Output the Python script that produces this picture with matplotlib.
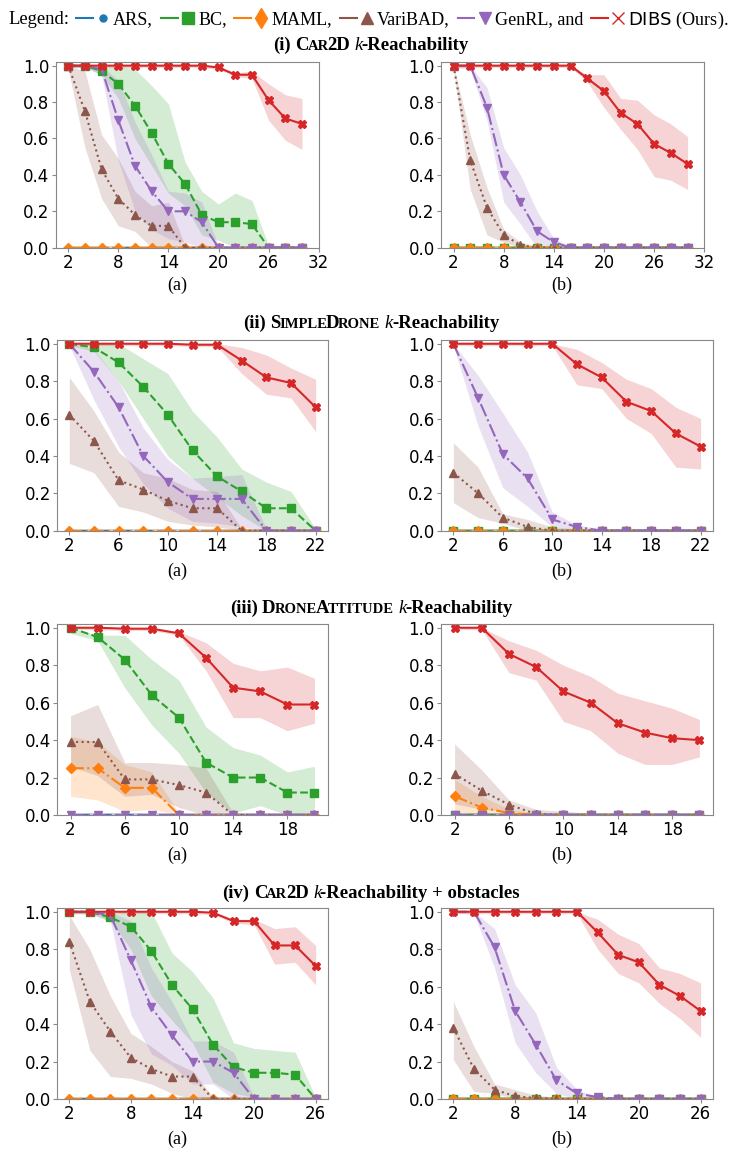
import numpy as np
import matplotlib
matplotlib.use('Agg')
import matplotlib.pyplot as plt
from matplotlib.lines import Line2D
from matplotlib.legend_handler import HandlerTuple

plt.rcParams['mathtext.fontset'] = 'custom'
plt.rcParams['mathtext.sf'] = 'DejaVu Sans'
plt.rcParams['mathtext.rm'] = 'Liberation Serif'

W, H = 741, 1154
SERIF = 'Liberation Serif'

methods = ['ARS', 'BC', 'MAML', 'VariBAD', 'GenRL', 'DIBS']
colors = {'ARS': '#1f77b4', 'BC': '#2ca02c', 'MAML': '#ff7f0e',
          'VariBAD': '#8c564b', 'GenRL': '#9467bd', 'DIBS': '#d62728'}
styles = {'ARS': ('--', 'o', 3.5), 'BC': ('--', 's', 5.5), 'MAML': ('-.', 'D', 5),
          'VariBAD': (':', '^', 5.5), 'GenRL': ('-.', 'v', 5.5), 'DIBS': ('-', 'X', 6)}

# ---- k values ----
k_car = [2, 4, 6, 8, 10, 12, 14, 16, 18, 20, 22, 24, 26, 28, 30]
k_drone = [2, 4, 6, 8, 10, 12, 14, 16, 18, 20, 22]
k_att = [2, 4, 6, 8, 10, 12, 14, 16, 18, 20]
k_obs = [2, 4, 6, 8, 10, 12, 14, 16, 18, 20, 22, 24, 26]

z15 = [0, 0, 0, 0, 0, 0, 0, 0, 0, 0, 0, 0, 0, 0, 0]
e15 = [.01, .01, .01, .01, .01, .01, .01, .01, .01, .01, .01, .01, .01, .01, .01]
z13 = [0, 0, 0, 0, 0, 0, 0, 0, 0, 0, 0, 0, 0]
e13 = [.01, .01, .01, .01, .01, .01, .01, .01, .01, .01, .01, .01, .01]
z11 = [0, 0, 0, 0, 0, 0, 0, 0, 0, 0, 0]
e11 = [.01, .01, .01, .01, .01, .01, .01, .01, .01, .01, .01]
z10 = [0, 0, 0, 0, 0, 0, 0, 0, 0, 0]
e10 = [.01, .01, .01, .01, .01, .01, .01, .01, .01, .01]

# each entry: (mean, lower, upper)
car_a = {
    'DIBS': ([1, 1, 1, 1, 1, 1, 1, 1, 1, .99, .95, .95, .81, .71, .68],
             [.99, .99, .99, .99, .99, .99, .99, .99, .99, .98, .94, .93, .70, .59, .54],
             [1, 1, 1, 1, 1, 1, 1, 1, 1, 1, .96, .97, .90, .84, .82]),
    'BC': ([1, 1, .97, .90, .78, .63, .46, .35, .18, .14, .14, .13, 0, 0, 0],
           [.99, .99, .95, .82, .60, .45, .30, .23, .07, .04, 0, 0, 0, 0, 0],
           [1, 1, .99, 1, .98, .89, .79, .47, .31, .24, .30, .26, .01, .01, .01]),
    'GenRL': ([1, 1, .98, .70, .45, .31, .20, .20, .14, 0, 0, 0, 0, 0, 0],
              [.99, .99, .95, .48, .20, .10, .05, .03, 0, 0, 0, 0, 0, 0, 0],
              [1, 1, 1, .92, .69, .51, .31, .30, .25, .01, .01, .01, .01, .01, .01]),
    'VariBAD': ([1, .75, .43, .27, .18, .12, .12, 0, 0, 0, 0, 0, 0, 0, 0],
                [.98, .55, .27, .12, .09, 0, 0, 0, 0, 0, 0, 0, 0, 0, 0],
                [1, .97, .62, .49, .31, .23, .25, .01, .01, .01, .01, .01, .01, .01, .01]),
    'MAML': (z15, z15, e15),
    'ARS': (z15, z15, e15),
}
car_b = {
    'DIBS': ([1, 1, 1, 1, 1, 1, 1, 1, .93, .86, .74, .68, .57, .52, .46],
             [.99, .99, .99, .99, .99, .99, .99, .99, .91, .77, .65, .54, .39, .37, .32],
             [1, 1, 1, 1, 1, 1, 1, 1, .95, .95, .82, .81, .73, .68, .61]),
    'GenRL': ([1, 1, .77, .40, .25, .09, .03, 0, 0, 0, 0, 0, 0, 0, 0],
              [.99, .98, .70, .25, .13, 0, 0, 0, 0, 0, 0, 0, 0, 0, 0],
              [1, 1, .88, .55, .40, .20, .05, .01, .01, .01, .01, .01, .01, .01, .01]),
    'VariBAD': ([1, .48, .22, .07, .015, 0, 0, 0, 0, 0, 0, 0, 0, 0, 0],
                [.98, .32, .07, .03, 0, 0, 0, 0, 0, 0, 0, 0, 0, 0, 0],
                [1, .62, .33, .10, .03, .01, .01, .01, .01, .01, .01, .01, .01, .01, .01]),
    'BC': (z15, z15, e15),
    'MAML': (z15, z15, e15),
    'ARS': (z15, z15, e15),
}
drone_a = {
    'DIBS': ([1, 1, 1, 1, 1, .995, .995, .91, .82, .79, .66],
             [.99, .99, .99, .99, .99, .985, .985, .84, .73, .71, .53],
             [1, 1, 1, 1, 1, 1, 1, .98, .94, .87, .81]),
    'BC': ([1, .98, .90, .77, .62, .43, .29, .21, .12, .12, 0],
           [.99, .96, .80, .60, .40, .28, .18, .08, 0, 0, 0],
           [1, 1, 1, .92, .84, .64, .50, .33, .26, .21, .01]),
    'GenRL': ([1, .85, .66, .40, .26, .17, .17, .17, 0, 0, 0],
              [.99, .70, .45, .25, .12, .05, .04, .02, 0, 0, 0],
              [1, .97, .80, .55, .38, .28, .29, .30, .01, .01, .01]),
    'VariBAD': ([.62, .48, .27, .22, .16, .12, .12, 0, 0, 0, 0],
                [.36, .31, .13, .10, .05, .03, .02, 0, 0, 0, 0],
                [.82, .64, .42, .31, .28, .22, .21, .01, .01, .01, .01]),
    'MAML': (z11, z11, e11),
    'ARS': (z11, z11, e11),
}
drone_b = {
    'DIBS': ([1, 1, 1, 1, 1, .89, .82, .69, .64, .52, .45],
             [.99, .99, .99, .99, .99, .78, .76, .60, .52, .34, .33],
             [1, 1, 1, 1, 1, .97, .90, .81, .76, .66, .60]),
    'GenRL': ([1, .71, .41, .28, .06, .02, 0, 0, 0, 0, 0],
              [.99, .56, .23, .13, .02, 0, 0, 0, 0, 0, 0],
              [1, .83, .63, .42, .10, .03, .01, .01, .01, .01, .01]),
    'VariBAD': ([.31, .20, .07, .02, 0, 0, 0, 0, 0, 0, 0],
                [.15, .07, .04, 0, 0, 0, 0, 0, 0, 0, 0],
                [.47, .34, .09, .06, .02, .01, .01, .01, .01, .01, .01]),
    'BC': (z11, z11, e11),
    'MAML': (z11, z11, e11),
    'ARS': (z11, z11, e11),
}
att_a = {
    'DIBS': ([1, 1, .995, .995, .97, .84, .68, .66, .59, .59],
             [.99, .99, .985, .985, .96, .77, .52, .52, .45, .49],
             [1, 1, 1, 1, .98, .92, .81, .77, .79, .73]),
    'BC': ([1, .95, .83, .64, .52, .28, .20, .20, .12, .12],
           [.97, .93, .68, .48, .33, .12, .01, .05, 0, 0],
           [1, .96, .96, .83, .72, .47, .36, .32, .23, .26]),
    'VariBAD': ([.39, .39, .19, .19, .16, .12, 0, 0, 0, 0],
                [.26, .21, .10, .11, .04, 0, 0, 0, 0, 0],
                [.53, .59, .28, .28, .27, .25, .01, .01, .01, .01]),
    'MAML': ([.25, .25, .145, .145, 0, 0, 0, 0, 0, 0],
             [.10, .08, .02, .03, 0, 0, 0, 0, 0, 0],
             [.42, .39, .27, .23, .01, .01, .01, .01, .01, .01]),
    'GenRL': (z10, z10, e10),
    'ARS': (z10, z10, e10),
}
att_b = {
    'DIBS': ([1, 1, .86, .79, .66, .60, .49, .44, .41, .40],
             [.99, .99, .76, .72, .50, .45, .33, .27, .27, .31],
             [1, 1, .93, .88, .80, .74, .65, .61, .57, .51]),
    'VariBAD': ([.22, .13, .055, .005, 0, 0, 0, 0, 0, 0],
                [.06, .03, .02, 0, 0, 0, 0, 0, 0, 0],
                [.38, .24, .08, .03, .02, .01, .01, .01, .01, .01]),
    'MAML': ([.10, .04, .01, 0, 0, 0, 0, 0, 0, 0],
             [.02, 0, 0, 0, 0, 0, 0, 0, 0, 0],
             [.19, .10, .03, .01, .01, .01, .01, .01, .01, .01]),
    'BC': (z10, z10, e10),
    'GenRL': (z10, z10, e10),
    'ARS': (z10, z10, e10),
}
obs_a = {
    'DIBS': ([1, 1, 1, 1, 1, 1, 1, .995, .95, .95, .82, .82, .71],
             [.99, .99, .99, .99, .99, .99, .99, .985, .94, .93, .72, .73, .61],
             [1, 1, 1, 1, 1, 1, 1, 1, .96, .96, .91, .92, .82]),
    'BC': ([1, 1, .97, .92, .79, .61, .48, .29, .17, .14, .14, .13, 0],
           [.99, .99, .95, .80, .55, .42, .30, .09, .03, .01, .01, .01, 0],
           [1, 1, .99, 1, 1, .78, .68, .54, .30, .27, .26, .25, .01]),
    'GenRL': ([1, 1, .98, .74, .49, .34, .20, .20, .14, 0, 0, 0, 0],
              [.99, .99, .95, .45, .24, .18, .08, .08, 0, 0, 0, 0, 0],
              [1, 1, 1, .95, .70, .52, .31, .31, .25, .01, .01, .01, .01]),
    'VariBAD': ([.84, .52, .36, .22, .16, .12, .12, 0, 0, 0, 0, 0, 0],
                [.69, .26, .12, .11, .08, .03, 0, 0, 0, 0, 0, 0, 0],
                [.98, .80, .55, .35, .28, .20, .15, .01, .01, .01, .01, .01, .01]),
    'MAML': (z13, z13, e13),
    'ARS': (z13, z13, e13),
}
obs_b = {
    'DIBS': ([1, 1, 1, 1, 1, 1, 1, .89, .77, .73, .61, .55, .47],
             [.99, .99, .99, .99, .99, .99, .99, .80, .67, .62, .51, .43, .33],
             [1, 1, 1, 1, 1, 1, 1, .96, .88, .83, .70, .67, .62]),
    'GenRL': ([1, 1, .81, .47, .29, .10, .03, .01, 0, 0, 0, 0, 0],
              [.99, .99, .70, .30, .14, .03, 0, 0, 0, 0, 0, 0, 0],
              [1, 1, .91, .61, .46, .17, .05, .01, .01, .01, .01, .01, .01]),
    'VariBAD': ([.38, .16, .05, .015, .005, 0, 0, 0, 0, 0, 0, 0, 0],
                [.21, .04, .03, 0, 0, 0, 0, 0, 0, 0, 0, 0, 0],
                [.52, .28, .08, .05, .02, .01, .01, .01, .01, .01, .01, .01, .01]),
    'BC': (z13, z13, e13),
    'MAML': (z13, z13, e13),
    'ARS': (z13, z13, e13),
}

rows = [
    (k_car, car_a, car_b, [2, 8, 14, 20, 26, 32], (0.5, 32)),
    (k_drone, drone_a, drone_b, [2, 6, 10, 14, 18, 22], (1, 23)),
    (k_att, att_a, att_b, [2, 6, 10, 14, 18], (1, 21)),
    (k_obs, obs_a, obs_b, [2, 8, 14, 20, 26], (0.8, 27.2)),
]

# pixel boxes (x0, x1) per column and (top, bottom) per row
col_px = [[(55.7, 318.7), (441, 704.3)]] + [[(57, 328), (441, 713)]] * 3
row_px = [(62, 247.7), (340, 530.7), (624, 815), (908, 1099)]
sub_y = [285, 571, 855, 1139]

fig = plt.figure(figsize=(W / 100, H / 100), dpi=100)


def draw_panel(ax, k, panel, xticks, xlim):
    for name in methods:
        mean, lo, hi = panel[name]
        ls, mk, ms = styles[name]
        ax.fill_between(k, lo, hi, color=colors[name], alpha=0.2, lw=0)
        ax.plot(k, mean, color=colors[name], ls=ls, marker=mk, ms=ms, lw=1.5)
    ax.set_xlim(*xlim)
    ax.set_ylim(0, 1.02)
    ax.set_xticks(xticks)
    ax.set_yticks([0, 0.2, 0.4, 0.6, 0.8, 1.0])
    ax.set_yticklabels(['0.0', '0.2', '0.4', '0.6', '0.8', '1.0'])
    for s in ax.spines.values():
        s.set_color('#888888')
    ax.tick_params(colors='#888888', labelcolor='black', labelsize=12,
                   length=3, pad=1.5)


for (k, pa, pb, xt, xl), cols, (top, bot), sy in zip(rows, col_px, row_px, sub_y):
    for (x0, x1), panel, lab, lx in zip(cols, [pa, pb], ['(a)', '(b)'], [177, 562]):
        ax = fig.add_axes([x0 / W, 1 - bot / H, (x1 - x0) / W, (bot - top) / H])
        draw_panel(ax, k, panel, xt, xl)
        fig.text(lx / W, 1 - sy / H, lab, ha='center', va='center',
                 family=SERIF, fontsize=13)

# ---- section titles with small caps ----
renderer = fig.canvas.get_renderer()


def title(yc, pieces, size=13.5):
    texts, widths = [], []
    for s, f, it in pieces:
        if s == ' ':
            texts.append(None)
            widths.append(size * 0.3 * 100 / 72)
            continue
        t = fig.text(0, 1 - yc / H, s, fontsize=size * f, family=SERIF,
                     fontweight='normal' if it else 'bold',
                     fontstyle='italic' if it else 'normal', va='baseline')
        texts.append(t)
        widths.append(t.get_window_extent(renderer).width - 1.2)
    x = (W - sum(widths)) / 2
    for t, w in zip(texts, widths):
        if t is not None:
            t.set_x(x / W)
        x += w


sc = 0.78
title(50, [('(i)', 1, 0), (' ', 1, 0), ('C', 1, 0), ('AR', sc, 0), ('2D', 1, 0), (' ', 1, 0),
           ('k', 1, 1), ('-Reachability', 1, 0)])
title(328, [('(ii)', 1, 0), (' ', 1, 0), ('S', 1, 0), ('IMPLE', sc, 0), ('D', 1, 0), ('RONE', sc, 0),
            (' ', 1, 0), ('k', 1, 1), ('-Reachability', 1, 0)])
title(613, [('(iii)', 1, 0), (' ', 1, 0), ('D', 1, 0), ('RONE', sc, 0), ('A', 1, 0), ('TTITUDE', sc, 0),
            (' ', 1, 0), ('k', 1, 1), ('-Reachability', 1, 0)])
title(898, [('(iv)', 1, 0), (' ', 1, 0), ('C', 1, 0), ('AR', sc, 0), ('2D', 1, 0), (' ', 1, 0),
            ('k', 1, 1), ('-Reachability + obstacles', 1, 0)])

# ---- legend line ----
leg_markers = {'ARS': ('o', 5), 'BC': ('s', 9), 'MAML': ('d', 10),
               'VariBAD': ('^', 8), 'GenRL': ('v', 8), 'DIBS': ('x', 9)}
leg_labels = ['ARS,', 'BC,', 'MAML,', 'VariBAD,', 'GenRL, and', r'$\mathsf{DIBS}$ (Ours).']
handles = []
for name in methods:
    m, ms = leg_markers[name]
    handles.append((Line2D([], [], color=colors[name], lw=1.5),
                    Line2D([], [], color=colors[name], marker=m, ms=ms, ls='none')))
fig.text(8 / W, 1 - 20 / H, 'Legend:', family=SERIF, fontsize=13.4, va='center')
fig.legend(handles, leg_labels, handler_map={tuple: HandlerTuple(ndivide=None, pad=0.1)},
           ncol=6, loc='center left', bbox_to_anchor=(76 / W, 1 - 20 / H), frameon=False,
           prop={'family': SERIF, 'size': 13.1}, handlelength=1.95, handletextpad=0.1,
           columnspacing=0.42, borderpad=0, borderaxespad=0)

fig.savefig('out.png', dpi=100)
